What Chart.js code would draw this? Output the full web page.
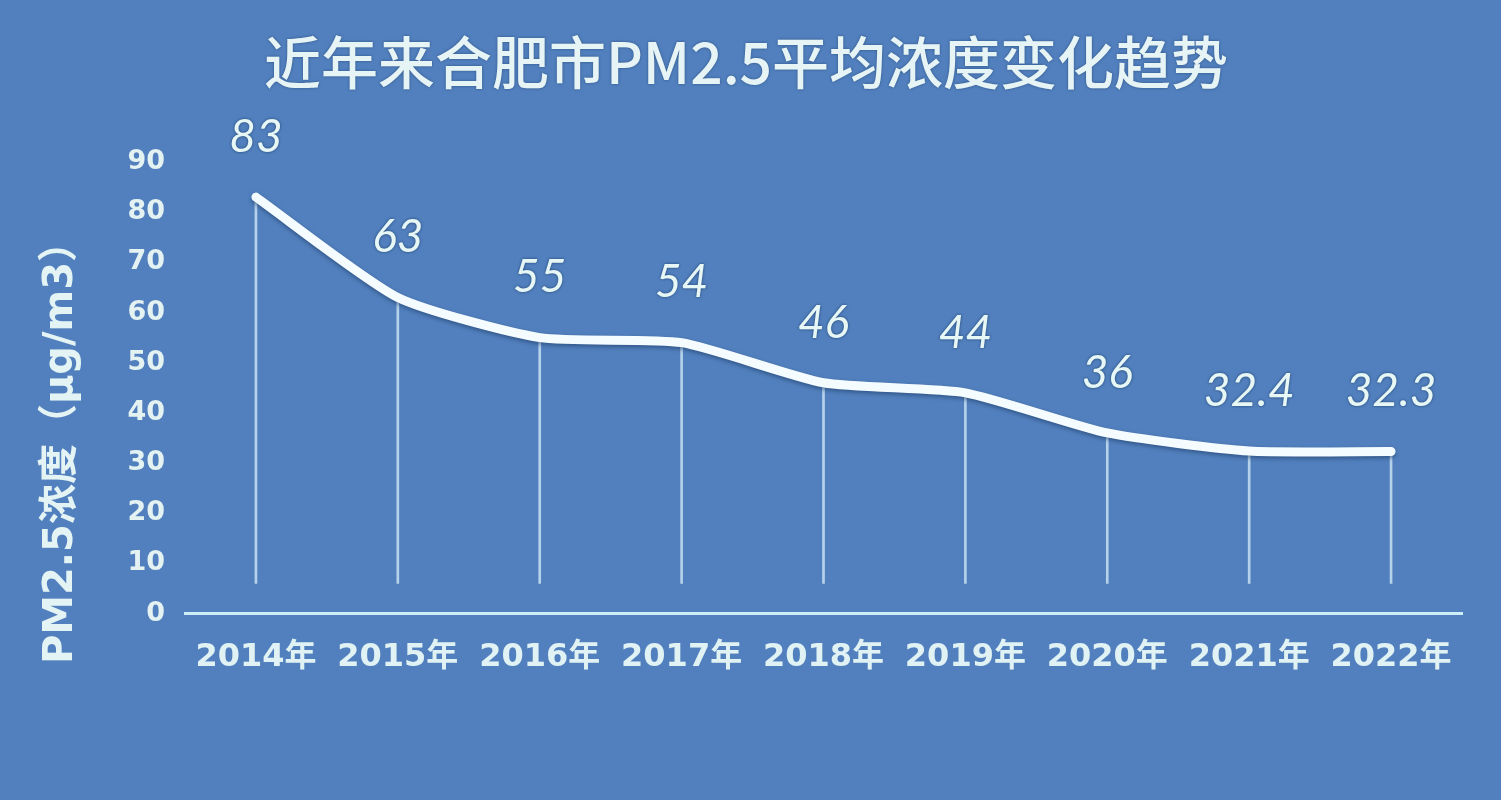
<!DOCTYPE html>
<html>
<head>
<meta charset="utf-8">
<script src="https://cdn.jsdelivr.net/npm/chart.js@4.4.1/dist/chart.umd.min.js"></script>
<style>
html,body{margin:0;padding:0;background:#5280be;}
#wrap{width:1501px;height:800px;}
</style>
</head>
<body>
<div id="wrap"><canvas id="c" width="1501" height="800"></canvas></div>
<script>
const categories = ['2014年','2015年','2016年','2017年','2018年','2019年','2020年','2021年','2022年'];
const pm25 = [83, 63, 55, 54, 46, 44, 36, 32.4, 32.3];
const valueLabels = ['83','63','55','54','46','44','36','32.4','32.3'];
const yTicks = [0,10,20,30,40,50,60,70,80,90];
const dropBase = 6;
const titleText = '近年来合肥市PM2.5平均浓度变化趋势';
const yTitleText = 'PM2.5浓度（μg/m3）';

const bgPlugin = {
  id: 'bg',
  beforeDraw(chart) {
    const ctx = chart.ctx;
    ctx.save();
    ctx.fillStyle = '#5280be';
    ctx.fillRect(0, 0, chart.width, chart.height);
    ctx.restore();
  }
};

const shadowPlugin = {
  id: 'lineShadow',
  beforeDatasetDraw(chart, args) {
    if (args.index === 1) {
      const ctx = chart.ctx;
      ctx.save();
      ctx.shadowColor = 'rgba(20,50,90,0.55)';
      ctx.shadowBlur = 4;
      ctx.shadowOffsetY = 2;
    }
  },
  afterDatasetDraw(chart, args) {
    if (args.index === 1) chart.ctx.restore();
  }
};

const textPlugin = {
  id: 'texts',
  afterDatasetsDraw(chart) {
    const meta = chart.getDatasetMeta(1);
    const ctx = chart.ctx;

    // title
    ctx.save();
    ctx.font = '500 57px "Noto Sans CJK SC", sans-serif';
    ctx.textAlign = 'center';
    ctx.textBaseline = 'middle';
    ctx.shadowColor = 'rgba(10,40,80,0.5)';
    ctx.shadowBlur = 3;
    ctx.fillStyle = '#e6f4f6';
    ctx.fillText(titleText, 746, 62);
    ctx.restore();

    // value labels
    ctx.save();
    ctx.font = 'italic 400 46px Lato, "DejaVu Sans", sans-serif';
    ctx.textAlign = 'center';
    ctx.textBaseline = 'middle';
    ctx.shadowColor = 'rgba(10,40,80,0.7)';
    ctx.shadowBlur = 3;
    ctx.fillStyle = '#e6f7f5';
    meta.data.forEach((pt, i) => {
      ctx.fillText(valueLabels[i], pt.x, pt.y - 60);
    });
    ctx.restore();

    // rotated y-axis title
    ctx.save();
    ctx.translate(62, 443);
    ctx.rotate(-Math.PI / 2);
    ctx.font = 'bold 40px "DejaVu Sans", "Noto Sans CJK SC", sans-serif';
    ctx.textAlign = 'center';
    ctx.textBaseline = 'middle';
    ctx.fillStyle = '#e4f4f4';
    ctx.fillText(yTitleText, 0, 0);
    ctx.restore();
  }
};

new Chart(document.getElementById('c'), {
  data: {
    labels: categories,
    datasets: [
      {
        type: 'bar',
        data: pm25.map(v => [dropBase, v]),
        backgroundColor: 'rgba(215,238,250,0.75)',
        barThickness: 2,
        order: 2
      },
      {
        type: 'line',
        data: pm25,
        borderColor: '#f5fcff',
        borderWidth: 9,
        pointRadius: 0,
        tension: 0.2,
        borderCapStyle: 'round',
        borderJoinStyle: 'round',
        order: 1
      }
    ]
  },
  options: {
    responsive: false,
    animation: false,
    devicePixelRatio: 1,
    layout: { padding: { left: 125, right: 39, top: 162, bottom: 98 } },
    plugins: {
      legend: { display: false },
      tooltip: { enabled: false },
      title: { display: false }
    },
    scales: {
      x: {
        offset: true,
        grid: { display: false, drawTicks: false },
        border: { display: true, color: '#cdeef6', width: 3 },
        ticks: {
          color: '#e0f2f3',
          padding: 25,
          font: { family: '"DejaVu Sans", "Noto Sans CJK SC", sans-serif', size: 32, weight: 'bold' }
        }
      },
      y: {
        min: 0,
        max: 90,
        afterFit(s) { s.width = 60; },
        afterBuildTicks(s) { s.ticks = yTicks.map(v => ({ value: v })); },
        grid: { display: false, drawTicks: false },
        border: { display: false },
        ticks: {
          color: '#e4f2f2',
          padding: 20,
          font: { family: '"DejaVu Sans", sans-serif', size: 27, weight: 'bold' }
        }
      }
    }
  },
  plugins: [bgPlugin, shadowPlugin, textPlugin]
});
</script>
</body>
</html>
